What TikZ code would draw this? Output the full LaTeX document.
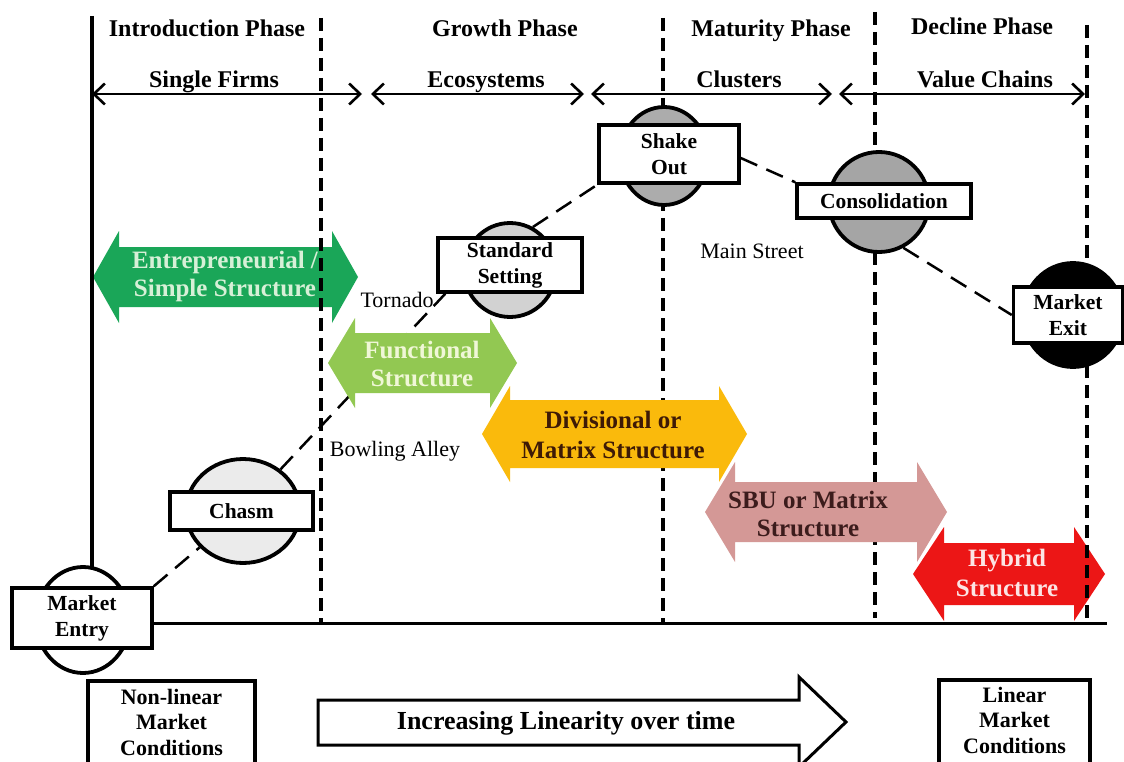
\documentclass[tikz,border=0pt]{standalone}
\usepackage{fontspec}
\setmainfont{Liberation Serif}
\usetikzlibrary{shapes.geometric,arrows.meta,calc}
\pgfdeclarelayer{back}
\pgfdeclarelayer{mid}
\pgfsetlayers{back,mid,main}
\definecolor{entC}{RGB}{26,166,88}
\definecolor{entT}{RGB}{215,240,215}
\definecolor{funC}{RGB}{146,200,82}
\definecolor{funT}{RGB}{240,247,215}
\definecolor{divC}{RGB}{250,186,12}
\definecolor{divT}{RGB}{62,26,6}
\definecolor{sbuC}{RGB}{212,152,150}
\definecolor{sbuT}{RGB}{60,28,28}
\definecolor{hybC}{RGB}{236,22,22}
\definecolor{hybT}{RGB}{252,228,228}
\definecolor{gOne}{RGB}{235,235,235}
\definecolor{gTwo}{RGB}{210,210,210}
\definecolor{gThree}{RGB}{172,172,172}
\definecolor{gFour}{RGB}{165,165,165}
% #1 left tip x, #2 right tip x, #3 centre y, #4 body half height, #5 head half height, #6 head length, #7 colour
\newcommand{\fatarr}[7]{\fill[#7] (#1,#3) -- ({#1+#6},{#3-#5}) -- ({#1+#6},{#3-#4}) -- ({#2-#6},{#3-#4}) -- ({#2-#6},{#3-#5}) -- (#2,#3) -- ({#2-#6},{#3+#5}) -- ({#2-#6},{#3+#4}) -- ({#1+#6},{#3+#4}) -- ({#1+#6},{#3+#5}) -- cycle;}
\begin{document}
\begin{tikzpicture}[x=1pt,y=-1pt,
  hdr/.style={font=\fontsize{24pt}{28pt}\selectfont\bfseries, inner sep=0pt},
  atxt/.style={font=\fontsize{25pt}{28pt}\selectfont\bfseries, align=center, inner sep=0pt},
  ptxt/.style={font=\fontsize{22pt}{26pt}\selectfont, inner sep=0pt},
  eell/.style={ellipse, draw, line width=3.8pt, inner sep=0pt},
  ebox/.style={rectangle, draw, line width=3.5pt, fill=white, inner sep=0pt, align=center,
     font=\fontsize{21.5pt}{26pt}\selectfont\bfseries},
  bbox/.style={rectangle, draw, line width=3.5pt, fill=white, inner sep=0pt},
  btxt/.style={inner sep=0pt, align=center, font=\fontsize{22pt}{25.5pt}\selectfont\bfseries},
  vdash/.style={line width=3.8pt, dash pattern=on 13pt off 7pt},
  curve/.style={line width=2.5pt, dash pattern=on 18pt off 10pt},
  toparr/.style={line width=2.6pt, {Straight Barb[length=11pt,width=21pt]}-{Straight Barb[length=11pt,width=21pt]}}
]
\useasboundingbox (0,0) rectangle (1124,762);
\clip (0,0) rectangle (1124,762);
\begin{pgfonlayer}{back}
  \fill[white] (0,0) rectangle (1124,762);
  \fatarr{93}{358}{277}{30}{46}{26}{entC}
  \fatarr{913}{1105}{574}{31}{47}{31}{hybC}
\end{pgfonlayer}

% headers
\node[hdr, anchor=base] (hIntro) at (207,37) {Introduction Phase};
\node[hdr, anchor=base west] (hGrowth) at (432,37) {Growth Phase};
\node[hdr, anchor=base] (hMat) at (771,37) {Maturity Phase};
\node[hdr, anchor=base] (hDec) at (982,35) {Decline Phase};
\node[hdr, anchor=base] (sSingle) at (214,88) {Single Firms};
\node[hdr, anchor=base] (sEco) at (486,88) {Ecosystems};
\node[hdr, anchor=base] (sClu) at (739,88) {Clusters};
\node[hdr, anchor=base] (sVal) at (985,88) {Value Chains};

% top span arrows
\coordinate (a1) at (92,94);  \coordinate (a2) at (362,94);
\coordinate (a3) at (371,94); \coordinate (a4) at (584,94);
\coordinate (a5) at (591,94); \coordinate (a6) at (832,94);
\coordinate (a7) at (839,94); \coordinate (a8) at (1085,94);
\draw[toparr] (a1) -- (a2);
\draw[toparr] (a3) -- (a4);
\draw[toparr] (a5) -- (a6);
\draw[toparr] (a7) -- (a8);

% structure arrows on top
\fatarr{328}{517}{363}{30}{45}{27}{funC}
\fatarr{482}{747}{434}{34}{48}{28}{divC}
\fatarr{705}{947}{512}{30}{50}{30}{sbuC}

\node[atxt, text=entT] (tEnt) at (225,276) {Entrepreneurial /\\Simple Structure};
\node[atxt, text=funT] (tFun) at (422,364) {Functional\\Structure};
\node[atxt, text=divT, font=\fontsize{25pt}{30pt}\selectfont\bfseries] (tDiv) at (613,435) {Divisional or\\Matrix Structure};
\node[atxt, text=sbuT] (tSbu) at (808,514) {SBU or Matrix\\Structure};
\node[atxt, text=hybT, font=\fontsize{25pt}{30pt}\selectfont\bfseries] (tHyb) at (1007,573) {Hybrid\\Structure};

% plain labels
\node[ptxt, anchor=base] (lTor) at (397,307) {Tornado};
\node[ptxt, anchor=base] (lBow) at (395,456) {Bowling Alley};
\node[ptxt, anchor=base] (lMain) at (752,258) {Main Street};

% milestone ellipses
\node[eell, fill=white, minimum width=94pt, minimum height=106pt] (entryE) at (83,620) {};
\node[eell, fill=gOne, minimum width=114pt, minimum height=104pt] (chasmE) at (243,511) {};
\node[eell, fill=gTwo, minimum width=92pt, minimum height=94pt] (stdE) at (510,270) {};
\node[eell, fill=gThree, minimum width=88pt, minimum height=98pt] (shakeE) at (664,156) {};
\node[eell, fill=gFour, minimum width=100pt, minimum height=100pt] (consE) at (879,202) {};
\node[eell, fill=black, minimum width=100pt, minimum height=104pt] (exitE) at (1073,315) {};

% milestone boxes
\node[ebox, minimum width=140pt, minimum height=60pt] (entryBox) at (82,618) {Market\\Entry};
\node[ebox, minimum width=143pt, minimum height=38pt] (chasmBox) at (241.5,511) {Chasm};
\node[ebox, minimum width=144pt, minimum height=54pt] (stdBox) at (510,265) {Standard\\Setting};
\node[ebox, minimum width=140pt, minimum height=58pt] (shakeBox) at (669,154) {Shake\\Out};
\node[ebox, minimum width=174pt, minimum height=34pt] (consBox) at (884,201) {Consolidation};
\node[ebox, minimum width=109pt, minimum height=56pt] (exitBox) at (1068,315) {Market\\Exit};

% bottom
\node[bbox, minimum width=167pt, minimum height=90pt] (nonBox) at (171.5,726) {};
\node[btxt] (nonTxt) at (171.5,722) {Non-linear\\Market\\Conditions};
\node[bbox, minimum width=151pt, minimum height=90pt] (linBox) at (1014.5,725) {};
\node[btxt] (linTxt) at (1014.5,720) {Linear\\Market\\Conditions};
\draw[line width=3pt, fill=white, line join=miter] (318,700) -- (799,700) -- (799,677) -- (846,722) -- (799,767) -- (799,745) -- (318,745) -- cycle;
\node[font=\fontsize{26pt}{30pt}\selectfont\bfseries, inner sep=0pt] (tLin) at (566,723) {Increasing Linearity over time};

\begin{pgfonlayer}{mid}
  \coordinate (v1t) at (321,18);  \coordinate (v1b) at (321,622);
  \coordinate (v2t) at (663,18);  \coordinate (v2b) at (663,622);
  \coordinate (v3t) at (875,12);  \coordinate (v3b) at (875,618);
  \coordinate (v4t) at (1087,25); \coordinate (v4b) at (1087,622);
  \coordinate (s0) at (92,16);
  \coordinate (axL) at (152,623); \coordinate (axR) at (1107,623);
  \draw[vdash] (v1t) -- (v1b);
  \draw[vdash] (v2t) -- (v2b);
  \draw[vdash] (v3t) -- (v3b);
  \draw[vdash] (v4t) -- (v4b);
  \draw[line width=4pt] (s0) -- (s0 |- entryE.center);
  \draw[line width=3pt] (axL) -- (axR);
  \draw[curve] (entryBox.north east) -- (chasmE.220);
  \draw[curve] (chasmE.48) -- ($(stdBox.south west)+(9,0)$);
  \draw[curve] (stdE.62) -- (shakeBox.south west);
  \draw[curve] ($(shakeBox.east)+(0,4)$) -- (consBox.north west);
  \draw[curve] (consE.-62) -- (exitBox.west);
\end{pgfonlayer}
\end{tikzpicture}
\end{document}
